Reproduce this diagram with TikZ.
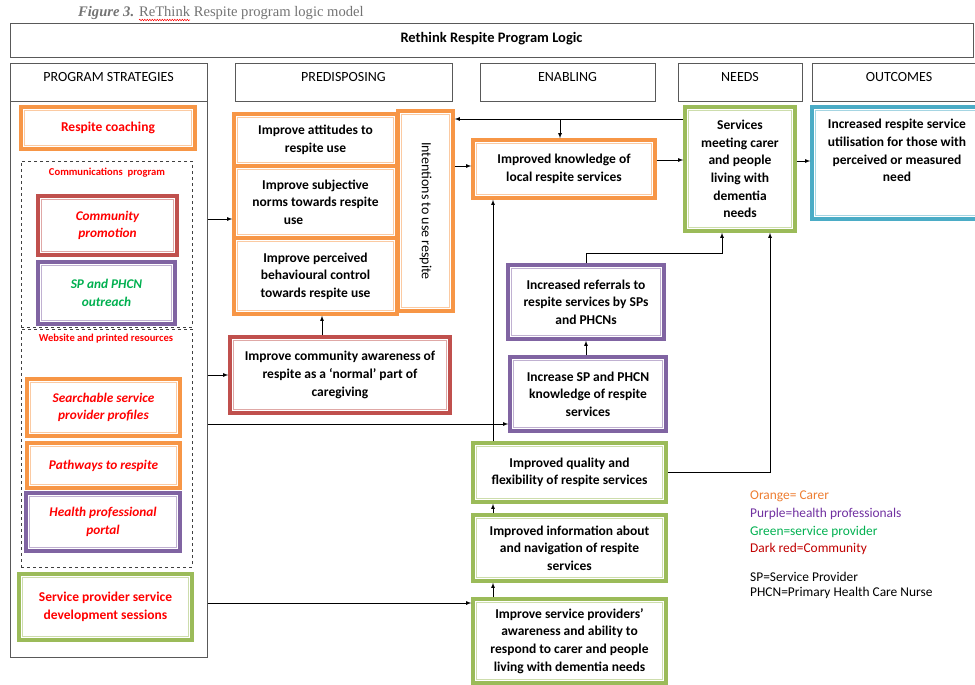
\documentclass[tikz,border=0pt]{standalone}
\usepackage{fontspec}
\setmainfont{Carlito}
\newfontfamily\capfont{Liberation Serif}
\usetikzlibrary{decorations.pathmorphing}
\definecolor{orangeb}{HTML}{F79646}
\definecolor{redb}{HTML}{C0504D}
\definecolor{purpleb}{HTML}{8064A2}
\definecolor{greenb}{HTML}{9BBB59}
\definecolor{blueb}{HTML}{4BACC6}
\definecolor{redtxt}{HTML}{FF0000}
\definecolor{greentxt}{HTML}{00B050}
\definecolor{legorange}{HTML}{ED7D31}
\definecolor{legpurple}{HTML}{7030A0}
\definecolor{legred}{HTML}{C00000}
\definecolor{hdrgray}{HTML}{595959}
\begin{document}
\begin{tikzpicture}[x=1pt, y=-1pt,
    lmbox/.style={draw=#1, fill=white, line width=3.5pt, inner sep=2pt, align=center,
        font=\fontsize{13.5}{17.6}\selectfont\bfseries,
        path picture={\draw[#1!50, line width=0.9pt]
            ([shift={(3.6pt,3.6pt)}]path picture bounding box.south west) rectangle
            ([shift={(-3.6pt,-3.6pt)}]path picture bounding box.north east);}},
    carer/.style={lmbox=orangeb},
    health/.style={lmbox=purpleb},
    provider/.style={lmbox=greenb},
    community/.style={lmbox=redb},
    outcome/.style={lmbox=blueb},
    wh/.style 2 args={minimum width=#1pt, minimum height=#2pt},
    stxt/.style={text=redtxt, font=\fontsize{13.3}{17.5}\selectfont\bfseries\itshape},
    hdr/.style={draw=hdrgray, line width=1pt, anchor=north, inner sep=3pt,
        text height=15pt, text depth=17pt, font=\fontsize{14}{16}\selectfont},
    grp/.style={draw=black!75, dashed, line width=0.8pt},
    grplbl/.style={text=redtxt, inner sep=0pt, font=\fontsize{10.6}{12}\selectfont\bfseries},
    lbltxt/.style={align=center, inner sep=0pt, font=\fontsize{13.5}{17.6}\selectfont\bfseries},
    leg/.style={anchor=west, inner sep=0pt, font=\fontsize{13.4}{15}\selectfont},
    arr/.style={-latex, line width=0.8pt}
]
\useasboundingbox (0,0) rectangle (975,685);

\node[anchor=west, inner sep=0pt, text=black!55, font=\capfont\fontsize{14.6}{16}\selectfont]
    (cap) at (78,13) {\textbf{\textit{Figure 3.}} ReThink Respite program logic model};
\draw[redtxt, line width=0.5pt, decorate, decoration={snake, amplitude=0.7pt, segment length=2.5pt}]
    (139,20) -- (190,20);

\node[hdr, wh={963}{34}, text height=16pt, text depth=12pt, font=\fontsize{14.5}{16}\selectfont\bfseries]
    (title) at (491.5,23) {Rethink Respite Program Logic};

\node[draw=hdrgray, line width=1pt, anchor=north, wh={197}{594}] (strat) at (108.5,63) {};
\node[hdr, wh={197}{38}] (strathd) at (108.5,63) {PROGRAM STRATEGIES};
\node[hdr, wh={217}{38}] (prehd)   at (343.5,63) {PREDISPOSING};
\node[hdr, wh={175}{38}] (enahd)   at (567.5,63) {ENABLING};
\node[hdr, wh={124}{38}] (needhd)  at (740,63)   {NEEDS};
\node[hdr, wh={174}{38}] (outhd)   at (899,63)   {OUTCOMES};

\node[grp, wh={171}{166}] (commgrp) at (106.5,244) {};
\node[grp, wh={171}{238}] (webgrp)  at (106.5,448) {};
\node[grplbl] (commlbl) at (107,173) {Communications\ \ program};
\node[grplbl] (weblbl)  at (106,339) {Website and printed resources};

\node[carer, wh={174}{42}, text=redtxt]              (coach)    at (108,128)   {Respite coaching};
\node[community, wh={139}{59}, stxt]                 (promo)    at (107.5,225.5) {Community\\promotion};
\node[health, wh={137}{62}, stxt, text=greentxt]     (outreach) at (106.5,293) {SP and PHCN\\outreach};
\node[carer, wh={153}{57}, stxt]                     (search)   at (103.5,407.5) {Searchable service\\provider profiles};
\node[carer, wh={153}{45}, stxt]                     (paths)    at (103.5,465.5) {Pathways to respite};
\node[health, wh={154}{58}, stxt]                    (portal)   at (103,522)   {Health professional\\portal};
\node[provider, wh={173}{66}, text=redtxt]           (devsess)  at (105.5,607) {Service provider service\\development sessions};

\node[carer, wh={163}{52}]  (att)    at (315.5,140) {Improve attitudes to\\respite use};
\node[carer, wh={163}{72}]  (norms)  at (315.5,202) {Improve subjective\\norms towards respite\\\hspace*{-44pt}use};
\node[carer, wh={163}{76}]  (percv)  at (315.5,276) {Improve perceived\\behavioural control\\towards respite use};
\node[carer, wh={55}{200}, font=\fontsize{14}{16}\selectfont]
                            (intent) at (425.5,211) {\rotatebox{-90}{Intentions to use respite}};
\node[community, wh={220}{76}] (aware) at (340,375) {Improve community awareness of\\respite as a ‘normal’ part of\\caregiving};

\node[carer, wh={182}{58}]    (know)    at (564,169)     {Improved knowledge of\\local respite services};
\node[health, wh={156}{74}]   (refer)   at (586,302)     {Increased referrals to\\respite services by SPs\\and PHCNs};
\node[health, wh={156}{74}]   (spknow)  at (588,394)     {Increase SP and PHCN\\knowledge of respite\\services};
\node[provider, wh={193}{59}] (quality) at (569.5,472.5) {Improved quality and\\flexibility of respite services};
\node[provider, wh={193}{66}] (info)    at (569.5,548)   {Improved information about\\and navigation of respite\\services};
\node[provider, wh={193}{84}] (prov)    at (569.5,641)   {Improve service providers’\\awareness and ability to\\respond to carer and people\\living with dementia needs};

\node[provider, wh={110}{124}] (meet) at (740,169) {Services\\meeting carer\\and people\\living with\\dementia\\needs};
\node[outcome, wh={170}{112},
    label={[lbltxt, anchor=north, yshift=-14pt]north:{Increased respite service\\utilisation for those with\\perceived or measured\\need}}]
    (outc) at (897,163) {};

\coordinate (split) at (560,119);

\draw[arr] (strat.east |- 0,219) -- (norms.west |- 0,219);
\draw[arr] (strat.east |- aware.west) -- (aware.west);
\draw[arr] (strat.east |- 0,424) -- (spknow.west |- 0,424);
\draw[arr] (strat.east |- 0,603) -- (prov.west |- 0,603);
\draw[arr] (aware.north -| 322,0) -- (percv.south -| 322,0);
\draw[arr] (intent.east |- 0,166) -- (know.west |- 0,166);
\draw[arr] (know.east |- 0,160) -- (meet.west |- 0,160);
\draw[arr] (meet.west |- split) -- (intent.east |- split);
\draw[arr] (split) -- (know.north -| split);
\draw[arr] (quality.north -| 493,0) -- (know.south -| 493,0);
\draw[arr] (refer.north) -- ++(0,-10) -| ([xshift=-18pt]meet.south);
\draw[arr] (refer.south |- spknow.north) -- (refer.south);
\draw[arr] (quality.east) -| ([xshift=30pt]meet.south);
\draw[arr] (info.north -| 493,0) -- (quality.south -| 493,0);
\draw[arr] (prov.north -| 493,0) -- (info.south -| 493,0);
\draw[arr] (meet.east |- 0,161) -- (outc.west |- 0,161);

\node[leg, text=legorange] (legcarer) at (750,496) {Orange= Carer};
\node[leg, text=legpurple] (leghp)    at (750,514) {Purple=health professionals};
\node[leg, text=greentxt]  (legsp)    at (750,532) {Green=service provider};
\node[leg, text=legred]    (legcom)   at (750,549) {Dark red=Community};
\node[leg]                 (abbsp)    at (750,577) {SP=Service Provider};
\node[leg]                 (abbphcn)  at (750,593) {PHCN=Primary Health Care Nurse};
\end{tikzpicture}
\end{document}
